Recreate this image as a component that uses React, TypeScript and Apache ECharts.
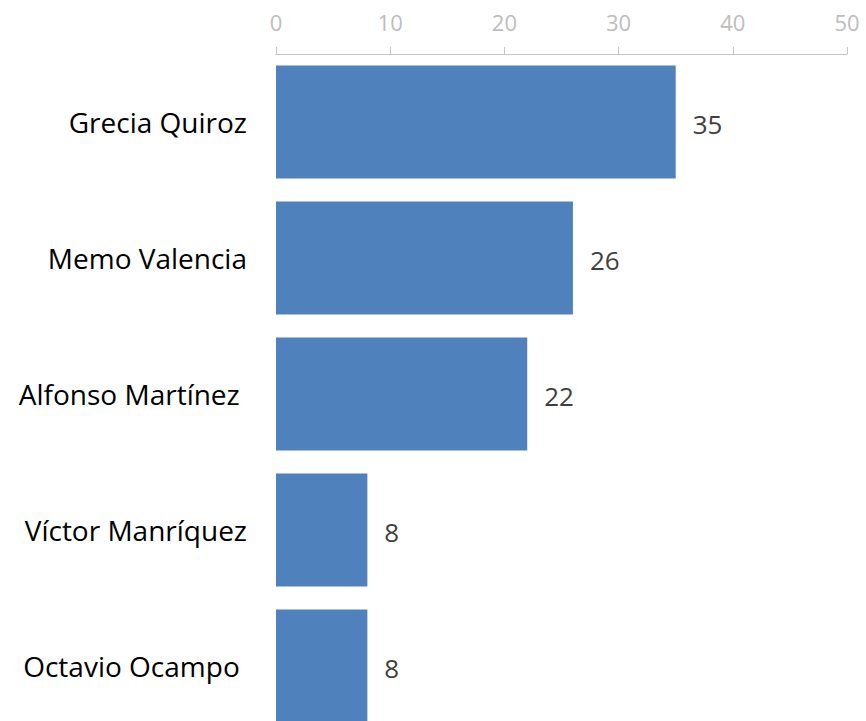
import React, { useEffect, useRef } from "react";
import * as echarts from "echarts";

const categories = ["Grecia Quiroz", "Memo Valencia", "Alfonso Martínez ", "Víctor Manríquez", "Octavio Ocampo "];
const values = [35, 26, 22, 8, 8];
const tickMin = 0;
const tickMax = 50;
const tickStep = 10;

export default function App() {
  const ref = useRef<HTMLDivElement>(null);
  useEffect(() => {
    if (!ref.current) return;
    const chart = echarts.init(ref.current, undefined, { renderer: "svg" });
    const font = "'Open Sans', 'Noto Sans', sans-serif";
    chart.setOption({
      animation: false,
      grid: { left: 276, right: 19, top: 54, bottom: 26, containLabel: false },
      xAxis: {
        type: "value",
        position: "top",
        min: tickMin,
        max: tickMax,
        interval: tickStep,
        axisLine: { show: true, lineStyle: { color: "#c6c6c6", width: 1 } },
        axisTick: { show: true, length: 7, lineStyle: { color: "#c6c6c6" } },
        splitLine: { show: false },
        axisLabel: { color: "#bdbdbd", fontSize: 22, fontFamily: font, margin: 21 },
      },
      yAxis: {
        type: "category",
        inverse: true,
        data: categories,
        axisLine: { show: false },
        axisTick: { show: false },
        axisLabel: {
          color: "#000000",
          fontSize: 28,
          fontFamily: font,
          margin: 29,
          formatter: (v: string) => v.replace(/ $/, "\u00A0"),
        },
      },
      series: [
        {
          type: "bar",
          data: values,
          barCategoryGap: "17%",
          itemStyle: { color: "#4f81bd" },
          label: {
            show: true,
            position: "right",
            distance: 17,
            offset: [0, 2],
            color: "#404040",
            fontSize: 26,
            fontFamily: font,
          },
        },
      ],
    });
    return () => chart.dispose();
  }, []);
  return (
    <div
      ref={ref}
      style={{ position: "fixed", left: 0, top: 0, width: 866, height: 760, background: "#fff" }}
    />
  );
}
